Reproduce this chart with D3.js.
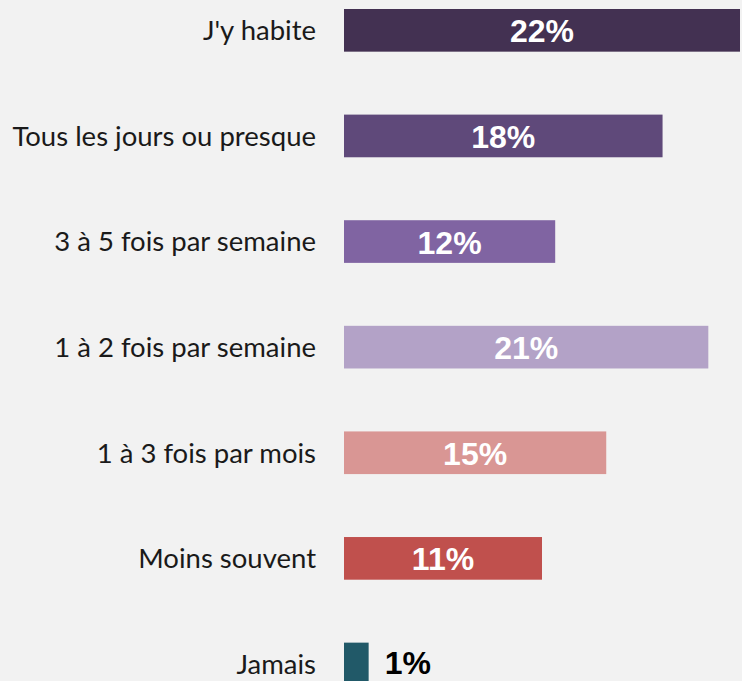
<!DOCTYPE html>
<html>
<head>
<meta charset="utf-8">
<script src="https://cdn.jsdelivr.net/npm/d3@7"></script>
<style>
  html, body { margin: 0; padding: 0; background: #f2f2f2; overflow: hidden; }
</style>
</head>
<body>
<div id="chart"></div>
<script>
// data
var categories = ["J'y habite", "Tous les jours ou presque", "3 à 5 fois par semaine",
  "1 à 2 fois par semaine", "1 à 3 fois par mois", "Moins souvent", "Jamais"];
var values = [22.5, 18.1, 12.0, 20.7, 14.9, 11.25, 1.4];
var valueLabels = ["22%", "18%", "12%", "21%", "15%", "11%", "1%"];
var colors = ["#433152", "#5f497a", "#8064a2", "#b3a2c7", "#d99694", "#c0504d", "#215968"];

var svgWidth = 742;
var svgHeight = 681;

var svg = d3.select("#chart").append("svg")
    .attr("width", svgWidth)
    .attr("height", svgHeight)
    .style("display", "block");

svg.append("rect")
    .attr("width", svgWidth)
    .attr("height", svgHeight)
    .attr("fill", "#f2f2f2");

// scales
var xScale = d3.scaleLinear()
    .domain([0, 22.5])
    .range([344, 740]);

var yScale = d3.scaleBand()
    .domain(categories)
    .range([9, 685.3])
    .paddingInner(0.596)
    .paddingOuter(0);

var rows = categories.map((c, i) => ({cat: c, value: values[i], label: valueLabels[i], color: colors[i]}));

// bars
svg.selectAll("rect.bar")
    .data(rows)
    .enter()
    .append("rect")
    .attr("class", "bar")
    .attr("x", xScale(0))
    .attr("y", d => yScale(d.cat))
    .attr("width", d => xScale(d.value) - xScale(0))
    .attr("height", yScale.bandwidth())
    .attr("fill", d => d.color);

// category labels (y axis without line/ticks)
var yAxis = d3.axisLeft(yScale).tickSize(0).tickPadding(0);
var axisG = svg.append("g")
    .attr("transform", "translate(316, 0)")
    .call(yAxis);
axisG.select(".domain").remove();
axisG.selectAll("text")
    .attr("font-family", "Lato, 'Open Sans', sans-serif")
    .attr("font-size", 27.5)
    .attr("fill", "#1a1a1a")
    .attr("dy", "0.36em");

// value labels: inside bar (white, centred) except the tiny one
svg.selectAll("text.val")
    .data(rows)
    .enter()
    .append("text")
    .attr("class", "val")
    .attr("x", d => d.value < 5 ? xScale(d.value) + 16 : (xScale(0) + xScale(d.value)) / 2)
    .attr("y", d => yScale(d.cat) + yScale.bandwidth() / 2 + (d.value < 5 ? 10 : 12))
    .attr("text-anchor", d => d.value < 5 ? "start" : "middle")
    .attr("font-family", "'Liberation Sans', Arial, sans-serif")
    .attr("font-weight", "bold")
    .attr("font-size", 32)
    .attr("fill", d => d.value < 5 ? "#000000" : "#ffffff")
    .text(d => d.label);
</script>
</body>
</html>
